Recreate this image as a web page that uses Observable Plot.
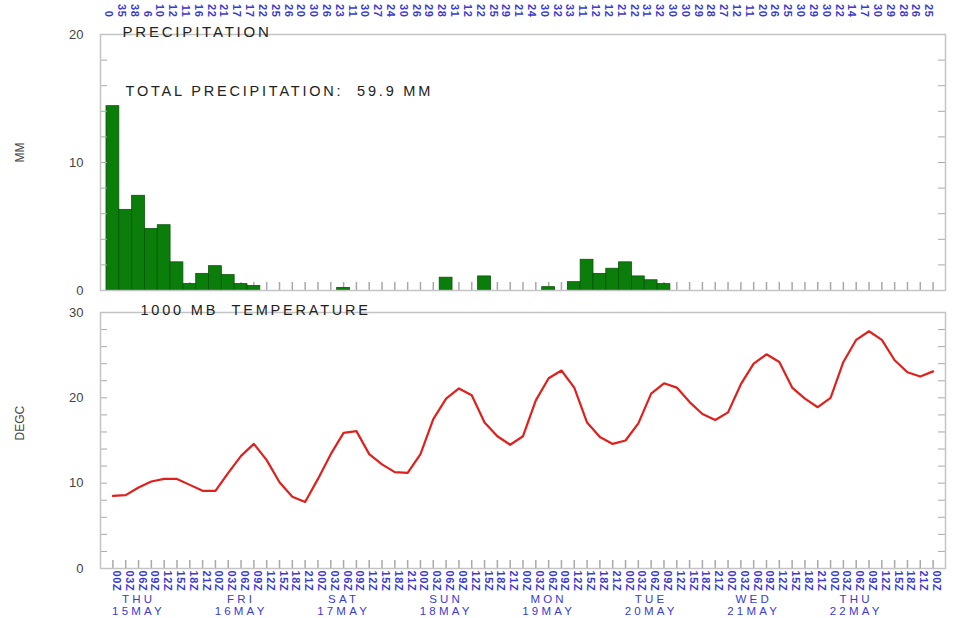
<!DOCTYPE html>
<html>
<head>
<meta charset="utf-8">
<script src="https://cdn.jsdelivr.net/npm/d3@7"></script>
<script src="https://cdn.jsdelivr.net/npm/@observablehq/plot@0.6"></script>
<style>
  html, body { margin: 0; padding: 0; background: #fff; }
  #chart { width: 972px; height: 618px; position: relative; overflow: hidden; }
  #chart svg { display: block; }
  text[aria-label="wide"] { letter-spacing: 2.8px; }
  text[aria-label="day"] { letter-spacing: 3.2px; }
  text[aria-label="small"] { letter-spacing: 0.6px; }
</style>
</head>
<body>
<div id="chart"></div>
<script>
// ---- data (3-hourly, 00Z 15 May to 00Z 23 May) ----
const hourNames = ["00Z","03Z","06Z","09Z","12Z","15Z","18Z","21Z"];
const dayNames = ["THU","FRI","SAT","SUN","MON","TUE","WED","THU"];
const dayDates = ["15MAY","16MAY","17MAY","18MAY","19MAY","20MAY","21MAY","22MAY"];

const precip = [
  14.4, 6.3, 7.4, 4.8, 5.1, 2.2, 0.5, 1.3, 1.9, 1.2, 0.5, 0.35, 0, 0, 0, 0,
  0, 0, 0.2, 0, 0, 0, 0, 0, 0, 0, 1.0, 0, 0, 1.1, 0, 0,
  0, 0, 0.26, 0, 0.65, 2.4, 1.3, 1.7, 2.2, 1.1, 0.8, 0.5, 0, 0, 0, 0,
  0, 0, 0, 0, 0, 0, 0, 0, 0, 0, 0, 0, 0, 0, 0, 0,
  0
];

const temperature = [
  8.5, 8.6, 9.5, 10.2, 10.5, 10.5, 9.8, 9.1,
  9.1, 11.2, 13.2, 14.6, 12.7, 10.1, 8.4, 7.8,
  10.5, 13.4, 15.9, 16.1, 13.4, 12.2, 11.3, 11.2,
  13.4, 17.5, 19.9, 21.1, 20.3, 17.1, 15.5, 14.5,
  15.5, 19.7, 22.3, 23.2, 21.2, 17.1, 15.4, 14.6,
  15.0, 17.0, 20.5, 21.7, 21.2, 19.5, 18.1, 17.4,
  18.3, 21.6, 24.0, 25.1, 24.2, 21.2, 19.9, 18.9,
  20.0, 24.2, 26.8, 27.8, 26.8, 24.4, 23.0, 22.5,
  23.1
];

// small rotated labels along the top (estimated, not legible in the source)
const topLabels = [
  "0","35","38","6","10","12","11","16","22","21","17","17","22","25","26","20",
  "30","26","23","11","30","27","24","30","26","29","28","31","12","22","25","29",
  "21","24","30","32","33","11","12","12","21","22","31","32","30","30","29","28",
  "27","12","11","20","26","25","30","29","30","22","14","17","30","29","28","26",
  "25"
];

const totalText = "TOTAL PRECIPITATION:  59.9 MM";

// ---- derived tables ----
const n = temperature.length;
const idx = d3.range(n);
const hourLabels = idx.map(i => hourNames[i % 8]);
const precipRows = precip.map((p, i) => ({i, p})).filter(d => d.p > 0);
const tempRows = temperature.map((t, i) => ({i, t}));
const dayRows = dayNames.map((d, k) => ({i: k * 8 + 2, text: d + "\n" + dayDates[k]}));

const FONT = "'Liberation Sans', Arial, Helvetica, sans-serif";
const BLUE = "#3a3ad0";
const GRAY = "#444";
const W = 972, ML = 100, MR = 27;
const plotW = W - ML - MR;
const tag = s => () => s;

const xScale = {domain: [-0.5, n - 0.5], insetLeft: 6, insetRight: 6, axis: null};

// ---- top panel ----
const topH = 300, topMT = 34, topMB = 10;
const topPlot = Plot.plot({
  width: W, height: topH,
  marginLeft: ML, marginRight: MR, marginTop: topMT, marginBottom: topMB,
  x: xScale,
  y: {domain: [0, 20], axis: null},
  style: {fontFamily: FONT, background: "white", overflow: "visible"},
  marks: [
    Plot.tickX(idx, {x: d => d, stroke: "#a8a8a8", strokeWidth: 1.5, insetTop: (topH - topMT - topMB) - 8}),
    Plot.rectY(precipRows, {x1: d => d.i - 0.5, x2: d => d.i + 0.5, y: "p", fill: "#0b7d0b", stroke: "#075507", strokeWidth: 0.8}),
    Plot.tickY(d3.range(0, 21, 2), {y: d => d, stroke: "#aaa", insetRight: plotW - 7}),
    Plot.tickY(d3.range(0, 21, 2), {y: d => d, stroke: "#aaa", insetLeft: plotW - 7}),
    Plot.frame({stroke: "#c4c4c4", strokeWidth: 1.5}),
    Plot.axisY({ticks: [0, 10, 20], tickSize: 0, tickPadding: 17, fontSize: 13, fill: GRAY, label: null}),
    Plot.text(["MM"], {frameAnchor: "left", dx: -80, rotate: -90, fontSize: 12, fill: GRAY}),
    Plot.text(["PRECIPITATION"], {frameAnchor: "top-left", dx: 22, dy: -8, textAnchor: "start", fontSize: 15, fill: "#222", ariaLabel: tag("wide")}),
    Plot.text([totalText], {frameAnchor: "top-left", dx: 25, dy: 51, textAnchor: "start", fontSize: 14.5, fill: "#222", ariaLabel: tag("wide")}),
    Plot.text(topLabels, {x: (d, i) => i, frameAnchor: "top", dy: -17, rotate: 90, textAnchor: "end", fontSize: 11, fontWeight: "bold", fill: BLUE, ariaLabel: tag("small")})
  ]
});

// ---- bottom panel ----
const botH = 318, botMT = 12, botMB = 50;
const botPlot = Plot.plot({
  width: W, height: botH,
  marginLeft: ML, marginRight: MR, marginTop: botMT, marginBottom: botMB,
  x: xScale,
  y: {domain: [0, 30], axis: null},
  style: {fontFamily: FONT, background: "white", overflow: "visible"},
  marks: [
    Plot.tickX(idx, {x: d => d, stroke: "#a8a8a8", strokeWidth: 1.5, insetTop: (botH - botMT - botMB) - 8}),
    Plot.tickY(d3.range(0, 31, 2), {y: d => d, stroke: "#aaa", insetRight: plotW - 7}),
    Plot.tickY(d3.range(0, 31, 2), {y: d => d, stroke: "#aaa", insetLeft: plotW - 7}),
    Plot.frame({stroke: "#c4c4c4", strokeWidth: 1.5}),
    Plot.line(tempRows, {x: "i", y: "t", stroke: "#e0201c", strokeWidth: 2.2}),
    Plot.axisY({ticks: [0, 10, 20, 30], tickSize: 0, tickPadding: 17, fontSize: 13, fill: GRAY, label: null}),
    Plot.text(["DEGC"], {frameAnchor: "left", dx: -80, rotate: -90, fontSize: 12, fill: GRAY}),
    Plot.text(["1000 MB  TEMPERATURE"], {frameAnchor: "top-left", dx: 40, dy: -8, textAnchor: "start", fontSize: 14.5, fill: "#222", ariaLabel: tag("wide")}),
    Plot.text(hourLabels, {x: (d, i) => i, frameAnchor: "bottom", dy: 2, rotate: 90, textAnchor: "start", fontSize: 11, fontWeight: "bold", fill: BLUE, ariaLabel: tag("small")}),
    Plot.text(dayRows, {x: "i", text: "text", frameAnchor: "bottom", dy: 46, fontSize: 11.5, lineHeight: 1.02, fill: BLUE, ariaLabel: tag("day")})
  ]
});

const root = document.getElementById("chart");
root.appendChild(topPlot);
root.appendChild(botPlot);
</script>
</body>
</html>
